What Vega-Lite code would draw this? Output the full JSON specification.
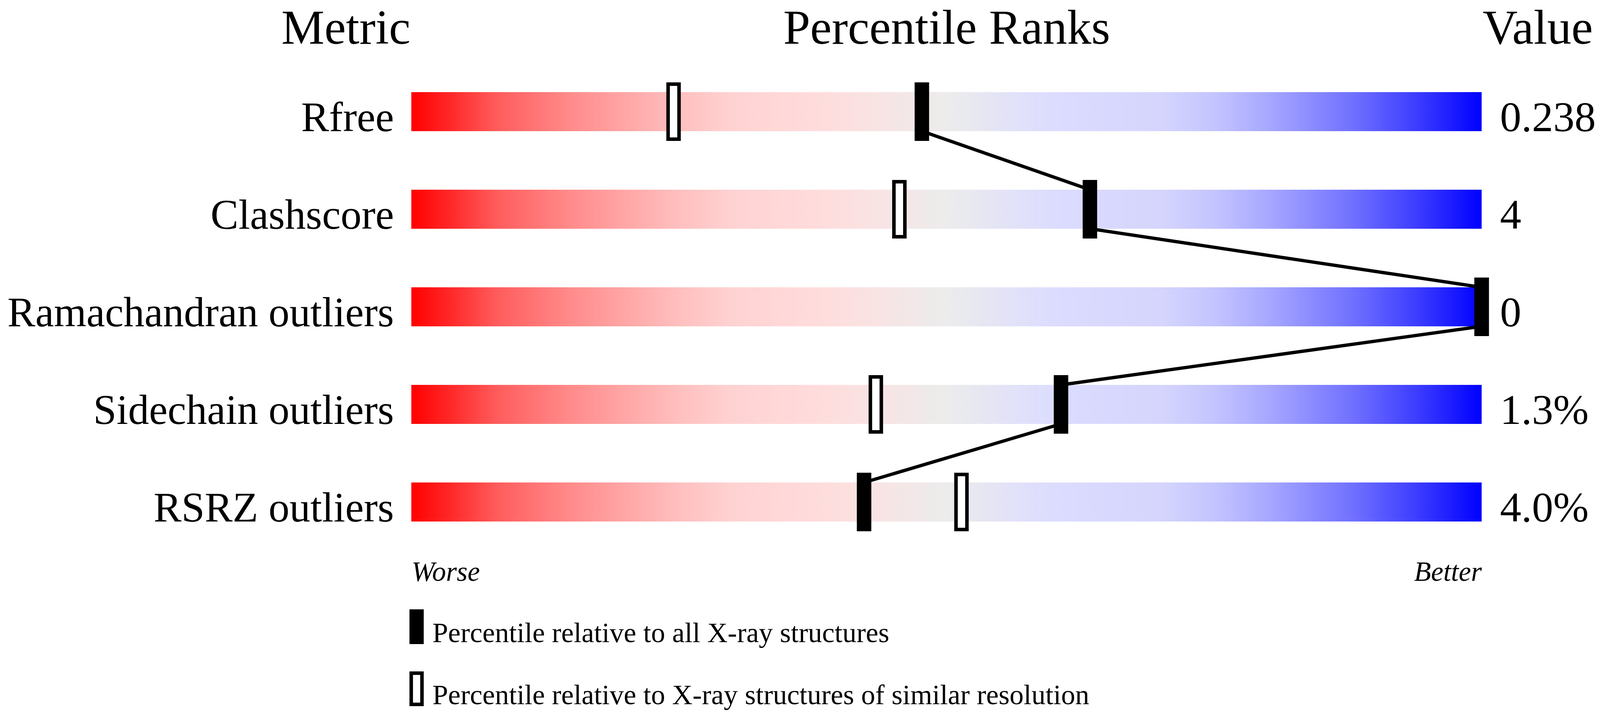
{
  "$schema": "https://vega.github.io/schema/vega-lite/v6.json",
  "width": 2740,
  "height": 1250,
  "autosize": "none",
  "padding": {"left": 1053, "top": 161, "right": 303, "bottom": 413},
  "background": "white",
  "datasets": {
    "metrics": [
      {"metric": "Rfree", "value": "0.238"},
      {"metric": "Clashscore", "value": "4"},
      {"metric": "Ramachandran outliers", "value": "0"},
      {"metric": "Sidechain outliers", "value": "1.3%"},
      {"metric": "RSRZ outliers", "value": "4.0%"}
    ],
    "markers": [
      {"metric": "Rfree", "kind": "Percentile relative to X-ray structures of similar resolution", "pct": 24.5},
      {"metric": "Clashscore", "kind": "Percentile relative to X-ray structures of similar resolution", "pct": 45.6},
      {"metric": "Ramachandran outliers", "kind": "Percentile relative to X-ray structures of similar resolution", "pct": 100},
      {"metric": "Sidechain outliers", "kind": "Percentile relative to X-ray structures of similar resolution", "pct": 43.4},
      {"metric": "RSRZ outliers", "kind": "Percentile relative to X-ray structures of similar resolution", "pct": 51.4},
      {"metric": "Rfree", "kind": "Percentile relative to all X-ray structures", "pct": 47.7},
      {"metric": "Clashscore", "kind": "Percentile relative to all X-ray structures", "pct": 63.4},
      {"metric": "Ramachandran outliers", "kind": "Percentile relative to all X-ray structures", "pct": 100},
      {"metric": "Sidechain outliers", "kind": "Percentile relative to all X-ray structures", "pct": 60.7},
      {"metric": "RSRZ outliers", "kind": "Percentile relative to all X-ray structures", "pct": 42.3}
    ],
    "path": [
      {"seq": 1, "metric": "Rfree", "end": "top", "pct": 47.7},
      {"seq": 2, "metric": "Rfree", "end": "bottom", "pct": 47.7},
      {"seq": 3, "metric": "Clashscore", "end": "top", "pct": 63.4},
      {"seq": 4, "metric": "Clashscore", "end": "bottom", "pct": 63.4},
      {"seq": 5, "metric": "Ramachandran outliers", "end": "top", "pct": 100},
      {"seq": 6, "metric": "Ramachandran outliers", "end": "bottom", "pct": 100},
      {"seq": 7, "metric": "Sidechain outliers", "end": "top", "pct": 60.7},
      {"seq": 8, "metric": "Sidechain outliers", "end": "bottom", "pct": 60.7},
      {"seq": 9, "metric": "RSRZ outliers", "end": "top", "pct": 42.3},
      {"seq": 10, "metric": "RSRZ outliers", "end": "bottom", "pct": 42.3}
    ]
  },
  "layer": [
    {
      "data": {"name": "metrics"},
      "mark": {
        "type": "rect",
        "height": 100,
        "fill": {
          "gradient": "linear",
          "x1": 0, "x2": 1, "y1": 0, "y2": 0,
          "stops": [
            {"offset": 0, "color": "#ff0000"},
            {"offset": 0.04, "color": "#ff2c2c"},
            {"offset": 0.08, "color": "#ff5c5c"},
            {"offset": 0.15, "color": "#ff8c8c"},
            {"offset": 0.2, "color": "#ffa6a6"},
            {"offset": 0.25, "color": "#ffbfbf"},
            {"offset": 0.3, "color": "#ffd2d2"},
            {"offset": 0.38, "color": "#ffdcdc"},
            {"offset": 0.44, "color": "#f8e4e4"},
            {"offset": 0.5, "color": "#ececec"},
            {"offset": 0.56, "color": "#e2e2f8"},
            {"offset": 0.6, "color": "#dcdcff"},
            {"offset": 0.7, "color": "#d5d5fd"},
            {"offset": 0.75, "color": "#c4c4ff"},
            {"offset": 0.8, "color": "#a8a8ff"},
            {"offset": 0.88, "color": "#7070ff"},
            {"offset": 0.94, "color": "#3c3cff"},
            {"offset": 1, "color": "#0000ff"}
          ]
        }
      },
      "encoding": {
        "x": {
          "datum": 0,
          "type": "quantitative",
          "scale": {"domain": [0, 100], "nice": false, "zero": false},
          "axis": {
            "orient": "top",
            "labels": false,
            "ticks": false,
            "domain": false,
            "grid": false,
            "title": "Percentile Ranks",
            "titleFont": "Liberation Serif",
            "titleFontSize": 124,
            "titleFontWeight": "normal",
            "titleColor": "black",
            "titleX": 1370,
            "titleY": -50,
            "titleAlign": "center",
            "titleBaseline": "alphabetic"
          }
        },
        "x2": {"datum": 100},
        "y": {
          "field": "metric",
          "type": "nominal",
          "scale": {
            "domain": ["Rfree", "Clashscore", "Ramachandran outliers", "Sidechain outliers", "RSRZ outliers"],
            "paddingInner": 0.6,
            "paddingOuter": 0.3
          },
          "axis": {
            "orient": "left",
            "ticks": false,
            "domain": false,
            "grid": false,
            "labelFont": "Liberation Serif",
            "labelFontSize": 107,
            "labelColor": "black",
            "labelPadding": 45,
            "labelLimit": 0,
            "labelBaseline": "alphabetic",
            "labelOffset": 50,
            "title": "Metric",
            "titleFont": "Liberation Serif",
            "titleFontSize": 124,
            "titleFontWeight": "normal",
            "titleColor": "black",
            "titleAngle": 0,
            "titleX": -168,
            "titleY": -50,
            "titleAlign": "center",
            "titleBaseline": "alphabetic"
          }
        }
      }
    },
    {
      "data": {"name": "path"},
      "mark": {"type": "line", "color": "black", "strokeWidth": 8.5, "strokeJoin": "bevel"},
      "encoding": {
        "x": {"field": "pct", "type": "quantitative", "axis": null},
        "y": {
          "field": "metric",
          "type": "nominal",
          "scale": {"domain": ["Rfree", "Clashscore", "Ramachandran outliers", "Sidechain outliers", "RSRZ outliers"]},
          "axis": null
        },
        "yOffset": {
          "field": "end",
          "type": "nominal",
          "scale": {"type": "point", "domain": ["top", "bottom"], "range": [0, 100], "padding": 0}
        },
        "order": {"field": "seq", "type": "quantitative"}
      }
    },
    {
      "data": {"name": "markers"},
      "mark": {
        "type": "point",
        "filled": true,
        "shape": "M-0.1986,-1L0.1986,-1L0.1986,1L-0.1986,1Z",
        "size": 19881,
        "stroke": "black",
        "strokeWidth": 9,
        "strokeJoin": "miter",
        "opacity": 1
      },
      "encoding": {
        "x": {
          "field": "pct",
          "type": "quantitative",
          "axis": {
            "orient": "bottom",
            "values": [0, 100],
            "labelExpr": "datum.value == 0 ? 'Worse' : 'Better'",
            "labelFlush": true,
            "ticks": false,
            "tickSize": 0,
            "domain": false,
            "grid": false,
            "labelFont": "Liberation Serif",
            "labelFontStyle": "italic",
            "labelFontSize": 71,
            "labelColor": "black",
            "labelBaseline": "alphabetic",
            "labelPadding": 76,
            "labelLimit": 0,
            "title": null
          }
        },
        "y": {
          "field": "metric",
          "type": "nominal",
          "scale": {"domain": ["Rfree", "Clashscore", "Ramachandran outliers", "Sidechain outliers", "RSRZ outliers"]},
          "axis": null
        },
        "fill": {
          "field": "kind",
          "type": "nominal",
          "scale": {
            "domain": ["Percentile relative to all X-ray structures", "Percentile relative to X-ray structures of similar resolution"],
            "range": ["black", "white"]
          },
          "legend": {
            "title": null,
            "orient": "none",
            "legendX": -31,
            "legendY": 1417,
            "direction": "vertical",
            "symbolType": "M-0.344,-1.425L0.344,-1.425L0.344,0.575L-0.344,0.575Z",
            "symbolSize": 6400,
            "symbolStrokeColor": "black",
            "symbolStrokeWidth": 9,
            "symbolOpacity": 1,
            "labelFont": "Liberation Serif",
            "labelFontSize": 72,
            "labelColor": "black",
            "labelLimit": 0,
            "labelOffset": -4,
            "labelBaseline": "middle",
            "rowPadding": 42
          }
        }
      }
    },
    {
      "data": {"name": "metrics"},
      "mark": {
        "type": "text",
        "align": "left",
        "baseline": "alphabetic",
        "dx": 47,
        "dy": 50,
        "font": "Liberation Serif",
        "fontSize": 109,
        "color": "black"
      },
      "encoding": {
        "x": {"datum": 100, "type": "quantitative", "axis": null},
        "y": {
          "field": "metric",
          "type": "nominal",
          "scale": {"domain": ["Rfree", "Clashscore", "Ramachandran outliers", "Sidechain outliers", "RSRZ outliers"]},
          "axis": {
            "orient": "right",
            "labels": false,
            "ticks": false,
            "domain": false,
            "grid": false,
            "title": "Value",
            "titleFont": "Liberation Serif",
            "titleFontSize": 124,
            "titleFontWeight": "normal",
            "titleColor": "black",
            "titleAngle": 0,
            "titleX": 2,
            "titleY": -50,
            "titleAlign": "left",
            "titleBaseline": "alphabetic"
          }
        },
        "text": {"field": "value", "type": "nominal"}
      }
    }
  ],
  "resolve": {"axis": {"x": "independent", "y": "independent"}},
  "config": {
    "view": {"stroke": null},
    "font": "Liberation Serif"
  }
}
